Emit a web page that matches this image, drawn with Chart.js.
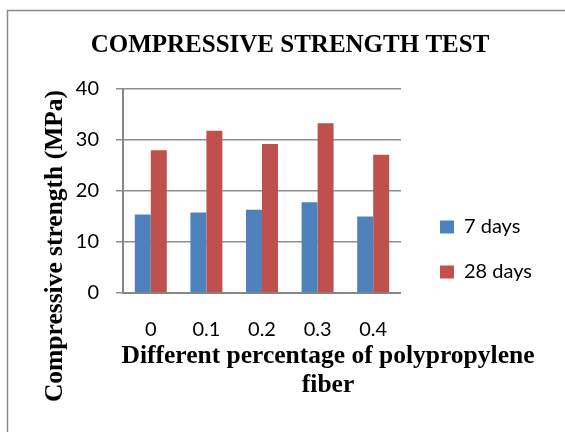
<!DOCTYPE html>
<html>
<head>
<meta charset="utf-8">
<script src="https://cdn.jsdelivr.net/npm/chart.js@4.4.1/dist/chart.umd.min.js"></script>
<style>
  html, body { margin: 0; padding: 0; background: #fff; }
  #wrap { width: 565px; height: 432px; position: relative; }
</style>
</head>
<body>
<div id="wrap"><canvas id="barChart" width="565" height="432"></canvas></div>
<script>
// data
const categories = ['0', '0.1', '0.2', '0.3', '0.4'];
const days7 = [15.4, 15.8, 16.3, 17.8, 15.0];
const days28 = [28.0, 31.8, 29.2, 33.3, 27.1];
const seriesNames = ['7 days', '28 days'];
const yMin = 0, yMax = 40, yStep = 10;

const chartTitle = 'COMPRESSIVE STRENGTH TEST';
const xTitle = ['Different percentage of polypropylene', 'fiber'];
const yTitle = 'Compressive strength (MPa)';

const serif = '"Liberation Serif", "Times New Roman", serif';
const sans = 'Lato, "Open Sans", sans-serif';

// frame + titles drawn on the canvas
const textPlugin = {
    id: 'texts',
    afterLayout(chart) {
        // push the legend a bit away from the plot
        const lg = chart.legend;
        const dx = 415 - lg.left;
        lg.left += dx;
        lg.right += dx;
    },
    beforeDraw(chart) {
        const c = chart.ctx;
        c.save();
        c.strokeStyle = '#8a8a8a';
        c.lineWidth = 1.5;
        c.strokeRect(7.5, 10.5, 700, 600);
        c.restore();
    },
    afterDraw(chart) {
        const c = chart.ctx;
        c.save();
        c.fillStyle = '#000';
        c.textAlign = 'center';
        c.textBaseline = 'alphabetic';

        c.font = 'bold 25px ' + serif;
        c.fillText(chartTitle, 290, 52);

        c.font = 'bold 25.5px ' + serif;
        c.fillText(xTitle[0], 328, 363);
        c.fillText(xTitle[1], 328, 392);

        c.translate(62, 246);
        c.rotate(-Math.PI / 2);
        c.fillText(yTitle, 0, 0);
        c.restore();
    }
};

const ctx = document.getElementById('barChart').getContext('2d');

const myChart = new Chart(ctx, {
    type: 'bar',
    data: {
        labels: categories,
        datasets: [{
            label: seriesNames[0],
            data: days7,
            backgroundColor: '#4f81bd'
        }, {
            label: seriesNames[1],
            data: days28,
            backgroundColor: '#c0504d'
        }]
    },
    options: {
        responsive: false,
        animation: false,
        devicePixelRatio: 1,
        layout: {
            padding: { top: 89, right: 37, bottom: 22, left: 0 }
        },
        categoryPercentage: 0.575,
        barPercentage: 1.0,
        plugins: {
            title: { display: false },
            tooltip: { enabled: false },
            legend: {
                position: 'right',
                labels: {
                    font: { family: sans, size: 20 },
                    color: '#000',
                    boxWidth: 14,
                    boxHeight: 13,
                    padding: 25
                }
            }
        },
        scales: {
            x: {
                grid: { display: false },
                border: { display: true, color: '#868686', width: 2 },
                ticks: {
                    font: { family: sans, size: 20 },
                    color: '#000',
                    padding: 17
                },
                afterFit(scale) { scale.height = 117; }
            },
            y: {
                min: yMin,
                max: yMax,
                ticks: {
                    stepSize: yStep,
                    font: { family: sans, size: 20 },
                    color: '#000',
                    padding: 17
                },
                grid: {
                    color: '#8e8e8e',
                    lineWidth: 1.5,
                    tickLength: 7
                },
                border: { display: true, color: '#868686', width: 2 },
                afterFit(scale) { scale.width = 123; }
            }
        }
    },
    plugins: [textPlugin]
});
</script>
</body>
</html>
